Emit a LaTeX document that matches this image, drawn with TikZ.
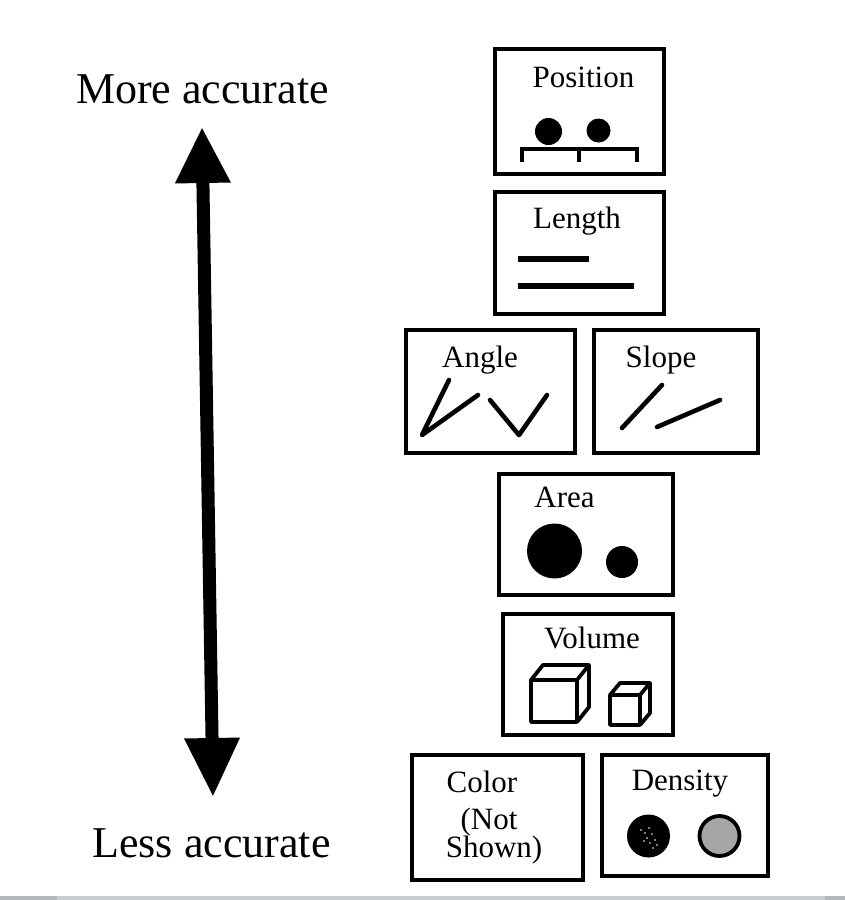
\documentclass[tikz,border=0pt]{standalone}
\usepackage{fontspec}
\setmainfont{Liberation Serif}
\usetikzlibrary{arrows.meta}
\definecolor{barcol}{HTML}{C9CDD2}
\definecolor{barend}{HTML}{B4B8BD}
\begin{document}
\begin{tikzpicture}[x=1pt,y=-1pt,
  box/.style={draw, line width=4pt, inner sep=0pt},
  lbl/.style={anchor=base, inner sep=0pt, font=\fontsize{31}{36}\selectfont},
  side/.style={anchor=base, inner sep=0pt, font=\fontsize{44}{50}\selectfont},
  ink/.style={line width=4.6pt, line cap=round, line join=round},
  bar/.style={line width=5.5pt},
  cube/.style={line width=3.8pt, line join=round}]
\useasboundingbox (0,0) rectangle (845,900);
\fill[white] (0,0) rectangle (845,900);
\fill[barcol] (0,895.5) rectangle (845,900);
\fill[barend] (0,895.5) rectangle (57,900);
\fill[barend] (825,895.5) rectangle (845,900);

% side texts and arrow
\node[side] (more) at (202.5,103) {More accurate};
\node[side] (less) at (211.5,857) {Less accurate};
\coordinate (atop) at (202,127);
\coordinate (abot) at (213,797);
\draw[line width=13pt, {Triangle[length=56pt,width=52pt]}-{Triangle[length=59pt,width=52pt]}] (atop) -- (abot);

% boxes
\node[box, minimum width=169pt, minimum height=125pt] (posbox) at (579.5,111.5) {};
\node[box, minimum width=169pt, minimum height=122pt] (lenbox) at (579.5,253) {};
\node[box, minimum width=169pt, minimum height=123pt] (angbox) at (490.5,391.5) {};
\node[box, minimum width=164pt, minimum height=123pt] (slobox) at (676,391.5) {};
\node[box, minimum width=174pt, minimum height=121pt] (arebox) at (586,534.5) {};
\node[box, minimum width=170pt, minimum height=121pt] (volbox) at (588,674.5) {};
\node[box, minimum width=171pt, minimum height=125pt] (colbox) at (497.5,817.5) {};
\node[box, minimum width=166pt, minimum height=121pt] (denbox) at (685,815.5) {};

% labels
\node[lbl] (poslbl) at (583.5,87) {Position};
\node[lbl] (lenlbl) at (577,228) {Length};
\node[lbl] (anglbl) at (480,367) {Angle};
\node[lbl] (slolbl) at (661,367) {Slope};
\node[lbl] (arelbl) at (564.5,507) {Area};
\node[lbl] (vollbl) at (592,648) {Volume};
\node[lbl] (denlbl) at (680,790) {Density};
\node[lbl] (collbl) at (482,792) {Color};
\node[lbl] (notlbl) at (489,829) {(Not};
\node[lbl] (shwlbl) at (494,857) {Shown)};

% position
\fill (548.5,131.5) circle (13.5pt);
\fill (598.5,130.5) circle (12pt);
\draw[line width=3.2pt] (522,162) -- (522,149) -- (637,149) -- (637,162);
\draw[line width=3.2pt] (579,149) -- (579,162);

% length
\draw[bar] (518,259) -- (589,259);
\draw[bar] (518,286) -- (634,286);

% angle
\draw[ink] (449,380) -- (422,435) -- (478,395);
\draw[ink] (490,400) -- (519,435) -- (547,395);

% slope
\draw[ink] (662,385) -- (622,428);
\draw[ink] (657,427) -- (720,400);

% area
\fill (554.5,551) circle (27.5pt);
\fill (622,562) circle (16pt);

% volume cubes
\draw[cube] (531,680) rectangle (577,722);
\draw[cube] (531,680) -- (543,665) -- (589,665) -- (577,680);
\draw[cube] (589,665) -- (589,707) -- (577,722);
\draw[cube] (610,695) rectangle (640,725);
\draw[cube] (610,695) -- (620,683) -- (650,683) -- (640,695);
\draw[cube] (650,683) -- (650,713) -- (640,725);

% density
\fill (648.5,836) circle (21.5pt);
\foreach \p in {(641,830),(645,833),(649,828),(652,834),(647,838),(655,840),(650,843),(644,841),(657,845),(653,848)}
  \fill[white] \p circle (0.9pt);
\draw[line width=3.8pt, fill=black!35] (719.5,836) circle (20pt);
\end{tikzpicture}
\end{document}
